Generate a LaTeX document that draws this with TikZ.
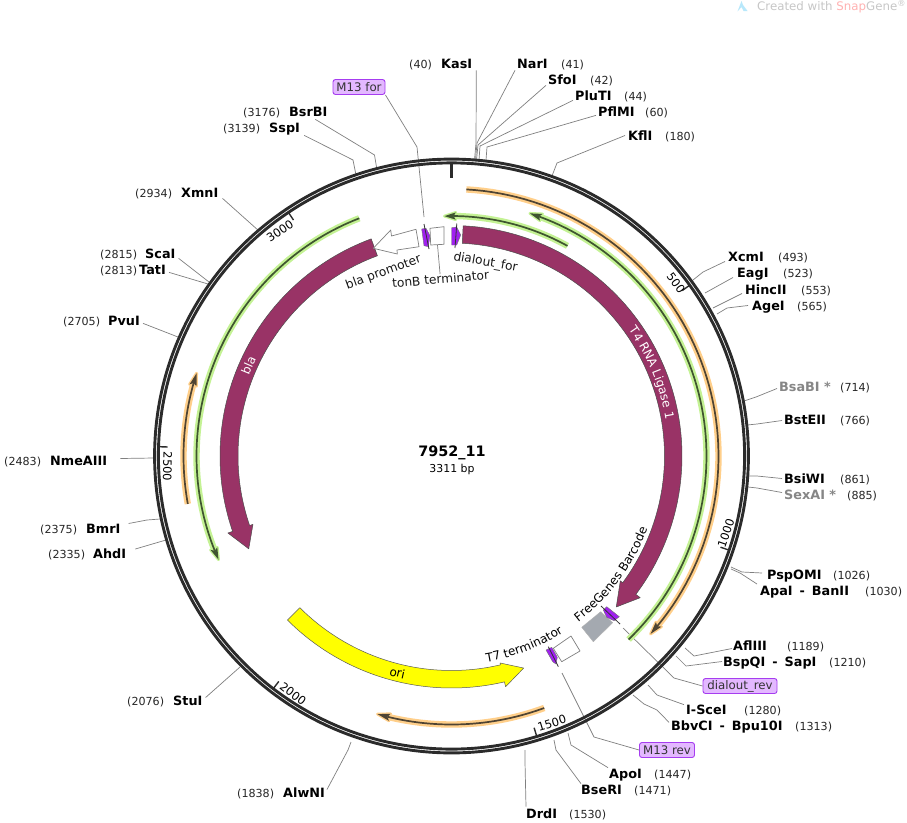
\documentclass[tikz,border=0pt]{standalone}
\usepackage{fontspec}
\setmainfont{DejaVu Sans}
\usetikzlibrary{decorations.text}
\definecolor{ringc}{HTML}{2B2B2B}
\definecolor{maroon}{HTML}{993366}
\definecolor{oriy}{RGB}{255,255,0}
\definecolor{orangehalo}{HTML}{FFCF8A}
\definecolor{greenhalo}{HTML}{C4F294}
\definecolor{orangecore}{HTML}{4F4433}
\definecolor{greencore}{HTML}{3F5530}
\definecolor{primerfill}{HTML}{E3B8FF}
\definecolor{primerline}{HTML}{A63DF0}
\definecolor{purplef}{HTML}{A020F0}
\definecolor{greyf}{HTML}{A4A9B0}
\tikzset{
  rn/.style={inner sep=0pt,anchor=west,yshift=-0.5pt,text height=9.3pt,text depth=0pt,font=\fontsize{12.8}{14}\bfseries\selectfont,text=black},
  rngray/.style={rn,text=gray!95!white},
  posn/.style={inner sep=0pt,anchor=west,yshift=-0.5pt,text height=9.3pt,text depth=0pt,font=\fontsize{11.1}{13}\selectfont,text=black!85},
  cn/.style={draw=black!50,line width=0.7pt},
  primer/.style={draw=primerline,fill=primerfill,rounded corners=2.5pt,line width=0.9pt,inner sep=0pt,minimum height=15pt,font=\fontsize{11.8}{13}\selectfont,text=black!80},
  tickm/.style={draw=ringc,line width=1.4pt},
  ticklab/.style={inner sep=0pt,font=\fontsize{11.5}{13}\selectfont},
  featlab/.style={inner sep=0pt,font=\fontsize{12.2}{14}\selectfont,text=black!90},
  geneb/.style={draw=black!70,line width=0.5pt,fill=maroon,line join=round},
  boxf/.style={draw=black!50,line width=0.7pt,fill=white,line join=round},
  purpf/.style={draw=black!55,line width=0.4pt,fill=purplef,line join=round},
  darkl/.style={draw=black!80,line width=0.8pt},
}
% id, name x, number x, y, name, number
\newcommand\enz[6]{\node[rn] (#1) at (#2,#4) {#5};\node[posn] (#1n) at (#3,#4) {(#6)};}
\newcommand\enzg[6]{\node[rngray] (#1) at (#2,#4) {#5};\node[posn] (#1n) at (#3,#4) {(#6)};}
% radius, start, tip, halo, core, direction sign (+1 clockwise)
\newcommand\featarc[6]{%
  \pgfmathsetmacro\backa{#3-#6*2.7}%
  \pgfmathsetmacro\neck{#3-#6*2.2}%
  \pgfmathsetmacro\ra{#1+3.6}\pgfmathsetmacro\rb{#1-3.6}%
  \draw[#4,line width=6.4pt] plot[domain=#2:\neck,samples=70] ({\x-90}:#1);
  \draw[#4,fill=#4,line width=2.8pt,line join=round] ({#3-90}:#1) -- ({\backa-90}:\ra) -- ({\neck-90}:#1) -- ({\backa-90}:\rb) -- cycle;
  \draw[#5,line width=1.7pt] plot[domain=#2:\neck,samples=70] ({\x-90}:#1);
  \fill[#5] ({#3-90}:#1) -- ({\backa-90}:\ra) -- ({\neck-90}:#1) -- ({\backa-90}:\rb) -- cycle;
}
\newcommand\curvetext[5]{% radius, from, to, color, text
  \path[decorate,decoration={text along path,text align=center,text={|\fontsize{12}{14}\selectfont\color{#4}|#5}}] plot[domain=#2:#3,samples=60] ({\x-90}:#1);
}
\begin{document}
\begin{tikzpicture}[x=1pt,y=-1pt]
\useasboundingbox (0,0) rectangle (907,822);
\fill[white] (0,0) rectangle (907,822);

% watermark
\fill[cyan!28!white] (737.5,11.5) -- (741.5,1) -- (743,5) -- (747.5,11) -- (743.5,11) -- (741.5,7) -- cycle;
\node[inner sep=0pt,anchor=west,font=\fontsize{11.8}{13}\selectfont,text=black!22] (wm) at (757,6.5) {Created with {\color{red!30!white}Snap}Gene\textsuperscript{®}};

% restriction site labels
\enz{kas}{441}{409}{63}{KasI}{40}
\enz{nar}{517}{561}{63}{NarI}{41}
\enz{sfo}{548}{590}{79}{SfoI}{42}
\enz{plu}{575}{624}{95}{PluTI}{44}
\enz{pfl}{598}{645}{111}{PflMI}{60}
\enz{kfl}{628}{665}{135}{KflI}{180}
\enz{bsr}{289}{243}{111}{BsrBI}{3176}
\enz{ssp}{269}{223}{127}{SspI}{3139}
\enz{xmn}{181}{135}{192}{XmnI}{2934}
\enz{sca}{145}{100}{253}{ScaI}{2815}
\enz{tat}{139}{100}{269}{TatI}{2813}
\enz{pvu}{108}{63}{320}{PvuI}{2705}
\enz{nme}{50}{4}{460}{NmeAIII}{2483}
\enz{bmr}{86}{40}{528}{BmrI}{2375}
\enz{ahd}{93}{48}{553.5}{AhdI}{2335}
\enz{stu}{173}{127}{700}{StuI}{2076}
\enz{alw}{283}{237}{792}{AlwNI}{1838}
\enz{drd}{526}{569}{813}{DrdI}{1530}
\enz{bse}{581}{634}{789}{BseRI}{1471}
\enz{apo}{609}{654}{773}{ApoI}{1447}
\enz{bbv}{671}{795}{725.7}{BbvCI\hspace{7pt}-\hspace{7pt}Bpu10I}{1313}
\enz{sce}{686}{744}{709}{I-SceI}{1280}
\enz{bsp}{723}{829}{661}{BspQI\hspace{7pt}-\hspace{7pt}SapI}{1210}
\enz{afl}{733}{787}{645}{AflIII}{1189}
\enz{apa}{760}{865}{590.5}{ApaI\hspace{7pt}-\hspace{7pt}BanII}{1030}
\enz{psp}{767}{833}{574.5}{PspOMI}{1026}
\enzg{sex}{784}{847}{494}{SexAI *}{885}
\enz{bsi}{784}{840}{478}{BsiWI}{861}
\enz{bst}{784}{840}{419}{BstEII}{766}
\enzg{bsa}{779}{840}{386}{BsaBI *}{714}
\enz{age}{752}{797}{305}{AgeI}{565}
\enz{hin}{745}{801}{289}{HincII}{553}
\enz{eag}{737}{783}{272}{EagI}{523}
\enz{xcm}{728}{778}{256}{XcmI}{493}

% primer labels
\node[primer,minimum width=52pt] (m13f) at (359,87) {M13 for};
\node[primer,minimum width=74pt] (drev) at (740,686) {dialout\_rev};
\node[primer,minimum width=55pt] (m13r) at (667,750) {M13 rev};

% ring end points of connectors
\coordinate (e40) at (474.5,160);
\coordinate (e41) at (475.5,160);
\coordinate (e42) at (476.5,160);
\coordinate (e44) at (479,160);
\coordinate (e60) at (486,160);
\coordinate (e180) at (552,176);
\coordinate (e3176) at (377,170);
\coordinate (e3139) at (356,175);
\coordinate (em13f) at (424,217);
\coordinate (e2934) at (259,231);
\coordinate (e2815) at (209,282);
\coordinate (e2813) at (208,284);
\coordinate (e2705) at (178,337);
\coordinate (e2483) at (154,458);
\coordinate (e2375) at (160,519);
\coordinate (e2335) at (166,540);
\coordinate (e2076) at (240,667);
\coordinate (e1838) at (351,742);
\coordinate (e1530) at (525,750);
\coordinate (e1471) at (554,740);
\coordinate (e1447) at (568,733);
\coordinate (em13r) at (562,673);
\coordinate (e1313) at (633,695);
\coordinate (e1280) at (648,685);
\coordinate (edrev) at (623,628);
\coordinate (e1210) at (676,656);
\coordinate (e1189) at (685,648);
\coordinate (e1030) at (731,569);
\coordinate (e1026) at (731,567);
\coordinate (e885) at (748,487);
\coordinate (e861) at (748,476);
\coordinate (e766) at (747,425);
\coordinate (e714) at (744,401);
\coordinate (e565) at (717,314);
\coordinate (e553) at (713,308);
\coordinate (e523) at (705,293);
\coordinate (e493) at (693,280);

% connectors
\draw[cn] ([shift={(4,2)}]kas.south east) -- (476,143) -- (e40);
\draw[cn] ([shift={(-2,2)}]nar.south west) -- (477,143) -- (e41);
\draw[cn] ([shift={(-2,1)}]sfo.south west) -- (478,145) -- (e42);
\draw[cn] ([shift={(-2,0)}]plu.south west) -- (480,146) -- (e44);
\draw[cn] ([shift={(-2,-1)}]pfl.south west) -- (487,147) -- (e60);
\draw[cn] ([shift={(-3,0)}]kfl.west) -- (557,163) -- (e180);
\draw[cn] ([shift={(7,3)}]bsr.south) -- (374.5,155) -- (e3176);
\draw[cn] ([shift={(4,3)}]ssp.south east) -- (353,160) -- (e3139);
\draw[cn] (m13f.south east) -- (417,147) -- (em13f);
\draw[cn] ([shift={(4,1)}]xmn.south east) -- (e2934);
\draw[cn] ([shift={(3,0)}]sca.south east) -- (e2815);
\draw[cn] ([shift={(3,-2)}]tat.south east) -- (e2813);
\draw[cn] ([shift={(3,-2)}]pvu.south east) -- (e2705);
\draw[cn] ([shift={(13,-2)}]nme.east) -- (e2483);
\draw[cn] ([shift={(8,-5)}]bmr.east) -- (147,520) -- (e2375);
\draw[cn] ([shift={(9,-5)}]ahd.east) -- (e2335);
\draw[cn] ([shift={(3,-3)}]stu.east) -- (e2076);
\draw[cn] ([shift={(2,-3)}]alw.east) -- (348,750) -- (e1838);
\draw[cn] ([shift={(0,-2)}]drd.north west) -- (525,762) -- (e1530);
\draw[cn] ([shift={(0,-1)}]bse.north west) -- (556,750) -- (e1471);
\draw[cn] ([shift={(-1,-1)}]apo.north west) -- (571,745) -- (e1447);
\draw[cn] (m13r.west) -- (594,737) -- (em13r);
\draw[cn] ([shift={(-2,1)}]bbv.north west) -- (657,710) -- (644,704) -- (e1313);
\draw[cn] ([shift={(-2,0)}]sce.north west) -- (657,695) -- (e1280);
\draw[cn] (drev.west) -- (674,678) -- (edrev);
\draw[cn] ([shift={(-1,0)}]bsp.west) -- (686,666) -- (e1210);
\draw[cn] ([shift={(-1,3)}]afl.west) -- (694,656) -- (e1189);
\draw[cn] ([shift={(-3,-7)}]apa.west) -- (740,573) -- (e1030);
\draw[cn] ([shift={(-5,-2)}]psp.west) -- (742,572) -- (e1026);
\draw[cn] ([shift={(-2,-2)}]sex.west) -- (757,488) -- (e885);
\draw[cn] ([shift={(-2,0)}]bsi.west) -- (757,476) -- (e861);
\draw[cn] ([shift={(-2,1)}]bst.west) -- (757,424) -- (e766);
\draw[cn] ([shift={(-2,2)}]bsa.west) -- (756,397) -- (e714);
\draw[cn] ([shift={(-4,0)}]age.west) -- (727,308) -- (e565);
\draw[cn] ([shift={(-3,4)}]hin.west) -- (e553);
\draw[cn] ([shift={(-4,5)}]eag.west) -- (e523);
\draw[cn] ([shift={(-3,5)}]xcm.west) -- (703,272) -- (e493);

% backbone ring and features
\begin{scope}[shift={(451.5,456)}]
  \draw[ringc,line width=2.9pt] (0,0) circle[radius=296.9];
  \draw[ringc,line width=2.9pt] (0,0) circle[radius=293.1];
  \draw[ringc,line width=2.8pt] (-90:293) -- (-90:278.5);
  \foreach \a in {54.36,108.73,163.09,217.46,271.82,326.19}
    \draw[tickm] ({\a-90}:293) -- ({\a-90}:284);

  % T4 RNA Ligase 1
  \draw[geneb] plot[domain=2.9:126.9,samples=90] ({\x-90}:230.5) -- (36.9:236) -- (42.5:223.5) -- (36.5:210) -- plot[domain=126.5:2.9,samples=90] ({\x-90}:213) -- cycle;
  % bla
  \draw[geneb] plot[domain=339.7:251,samples=90] ({\x-90}:231.5) -- (161:236.5) -- (155.4:223) -- (161:210) -- plot[domain=251:339.7,samples=90] ({\x-90}:213.5) -- cycle;
  % ori
  \draw[draw=black!65,line width=0.5pt,fill=oriy,line join=round] plot[domain=225:166.8,samples=60] ({\x-90}:232) -- (76.8:237) -- (71.2:224) -- (76.8:212.6) -- plot[domain=166.8:225,samples=60] ({\x-90}:214.5) -- cycle;

  \featarc{267}{3.2}{131.8}{orangehalo}{orangecore}{1}
  \featarc{255}{136}{17.9}{greenhalo}{greencore}{-1}
  \featarc{240}{28.9}{-1.7}{greenhalo}{greencore}{-1}
  \featarc{255}{338.8}{246}{greenhalo}{greencore}{-1}
  \featarc{268}{259.7}{288}{orangehalo}{orangecore}{1}
  \featarc{268.5}{159.8}{196}{orangehalo}{orangecore}{1}

  \curvetext{217.3}{45}{90}{white}{T4 RNA Ligase 1}
  \curvetext{217.8}{274}{314}{white}{bla}
  \curvetext{227.8}{214}{174}{black}{ori}
  \curvetext{209}{150}{103}{black}{FreeGenes Barcode}
  \curvetext{209}{175}{143}{black}{T7 terminator}
\end{scope}

% small features near the origin
\draw[boxf] (373.3,248.3) -- (390.7,230) -- (391.5,236) -- (416,229.3) -- (419,246.7) -- (397,250) -- (397.3,254) -- cycle;
\draw[boxf] (430,228.3) -- (444,226.7) -- (444,244.3) -- (430.7,245) -- cycle;
\node[draw=none,inner sep=0pt,minimum size=0pt] (tonbbox) at (437.5,245) {};
\node[featlab,rotate=5] (tonb) at (440.5,279) {tonB terminator};
\draw[cn] (tonbbox) -- (tonb.north);
\draw[purpf] (421.7,229) -- (426,228.3) -- (430,235.7) -- (428.3,246.7) -- (424,245.7) -- cycle;
\draw[darkl] (424,224) -- (429,249);
\draw[purpf] (451.7,227.7) -- (456.7,227) -- (460.7,235) -- (456.7,245) -- (451.7,245) -- cycle;
\draw[darkl] (456.8,223.5) -- (455,248);
\node[featlab,rotate=20] (blap) at (383.5,272.5) {bla promoter};
\node[featlab,rotate=-10] (dfor) at (485.5,262.5) {dialout\_for};

% small features near the terminators
\draw[boxf] (553.3,648.3) -- (571,636) -- (580,651) -- (561.7,661.7) -- cycle;
\draw[draw=black!30,line width=0.4pt,fill=greyf,line join=round] (581.7,627.3) -- (600.7,611.7) -- (612.7,622.7) -- (593.3,641.7) -- cycle;
\draw[purpf] (603.3,610) -- (606.7,606.7) -- (619.3,616.7) -- (614,620.7) -- (606.7,617.3) -- cycle;
\draw[darkl] (601,606) -- (620,624);
\draw[purpf] (546,650) -- (551.7,647.3) -- (557.3,657.3) -- (556,664) -- (552.7,661.7) -- cycle;
\draw[darkl] (548.3,646.7) -- (558.3,666.7);

% tick labels
\node[ticklab,rotate=-54] (t500) at (676,283) {500};
\node[ticklab,rotate=71] (t1000) at (726,533) {1000};
\node[ticklab,rotate=17] (t1500) at (552,723) {1500};
\node[ticklab,rotate=-37] (t2000) at (293,694) {2000};
\node[ticklab,rotate=-91] (t2500) at (167.5,466.5) {2500};
\node[ticklab,rotate=34] (t3000) at (280,231) {3000};

% centre title
\node[inner sep=0pt,font=\fontsize{14.4}{16}\bfseries\selectfont] (title) at (452,453) {7952\_11};
\node[inner sep=0pt,font=\fontsize{10.9}{12}\selectfont] (bp) at (452,469) {3311 bp};
\end{tikzpicture}
\end{document}
